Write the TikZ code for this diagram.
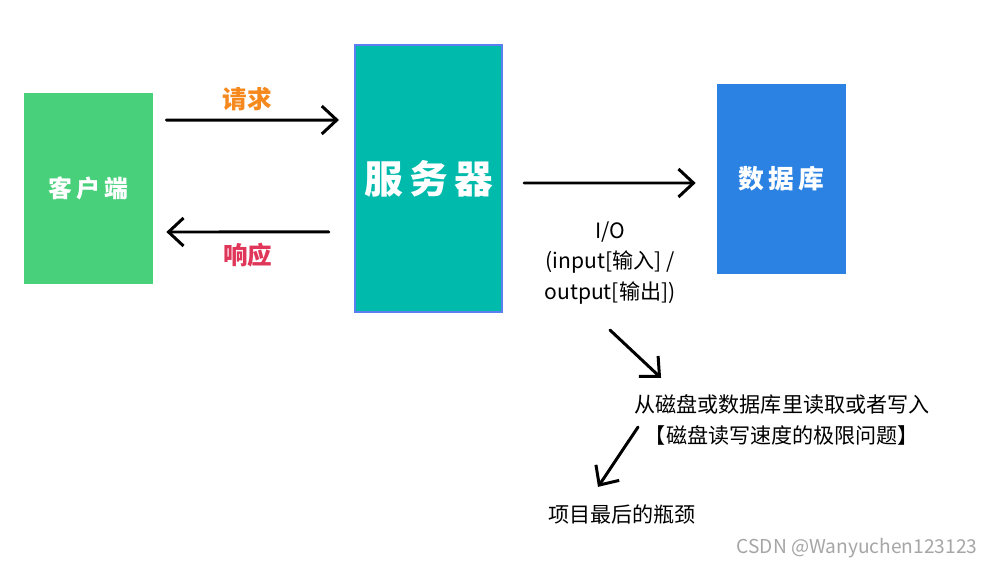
\documentclass[tikz,border=0pt]{standalone}
\usepackage{fontspec}
\setmainfont{Noto Sans CJK SC}
\usetikzlibrary{arrows.meta}
\usetikzlibrary{positioning}

\definecolor{cligreen}{HTML}{48D07A}
\definecolor{srvteal}{HTML}{00BAAC}
\definecolor{srvline}{HTML}{5B7FF0}
\definecolor{dbblue}{HTML}{2B82E2}
\definecolor{reqorange}{HTML}{F5891E}
\definecolor{resred}{HTML}{E0365A}

\tikzset{
    box/.style={rectangle, inner sep=0pt, text=white, font=\bfseries},
    arr/.style={-{Straight Barb[length=0.3cm,width=0.56cm]}, line width=1.7pt, line cap=round},
    note/.style={inner sep=0pt, align=center}
}

\begin{document}
\begin{tikzpicture}[x=0.02cm, y=-0.02cm]
        \useasboundingbox[fill=white] (0,0) rectangle (994,568);

        % boxes
        \node [box, fill=cligreen, minimum width=2.58cm, minimum height=3.82cm,
               font=\fontsize{13.6}{16}\selectfont\bfseries] (cli) at (88.5,188.5) {客\,户\,端};
        \node [box, fill=srvteal, draw=srvline, line width=1.2pt, minimum width=2.94cm, minimum height=5.34cm,
               font=\fontsize{22}{26}\selectfont\bfseries] (srv) at (428.5,178.5) {服\,务\,器};
        \node [box, fill=dbblue, minimum width=2.58cm, minimum height=3.8cm,
               font=\fontsize{14.7}{17}\selectfont\bfseries] (db) at (781.5,179) {数\,据\,库};

        % request / response
        \draw [arr] ([xshift=0.26cm,yshift=1.37cm] cli.east) -- ([xshift=-0.3cm,yshift=1.17cm] srv.west)
            node [pos=0.47, above=0.03cm, text=reqorange, font=\fontsize{14}{16}\selectfont\bfseries] (req) {请求};
        \draw [arr] ([xshift=-0.5cm,yshift=-1.07cm] srv.west) -- ([xshift=0.26cm,yshift=-0.87cm] cli.east)
            node [pos=0.5, below=0.08cm, text=resred, font=\fontsize{14}{16}\selectfont\bfseries] (res) {响应};

        % server to database
        \draw [arr] ([xshift=0.42cm,yshift=-0.09cm] srv.east) -- ([xshift=-0.42cm,yshift=-0.08cm] db.west);

        \node [note, font=\fontsize{12}{17.6}\selectfont] (io) at (610,263)
            {I/O\\(input[输入] /\\output[输出])};
        \node [note, font=\fontsize{12}{18}\selectfont] (rd) at (782,420)
            {从磁盘或数据库里读取或者写入\\【磁盘读写速度的极限问题】};
        \node [note, font=\fontsize{12}{14}\selectfont] (btl) at (622,514) {项目最后的瓶颈};
        \node [note, text=gray!70, font=\fontsize{10.9}{12}\selectfont] (mark) at (857,548) {CSDN @Wanyuchen123123};

        \draw [arr] ([yshift=-0.5cm] io.south) -- ([xshift=0.54cm,yshift=0.32cm] rd.north west);
        \draw [arr] ([xshift=0.08cm,yshift=-0.14cm] rd.west) -- ([xshift=-0.48cm,yshift=0.34cm] btl.north);
\end{tikzpicture}
\end{document}
